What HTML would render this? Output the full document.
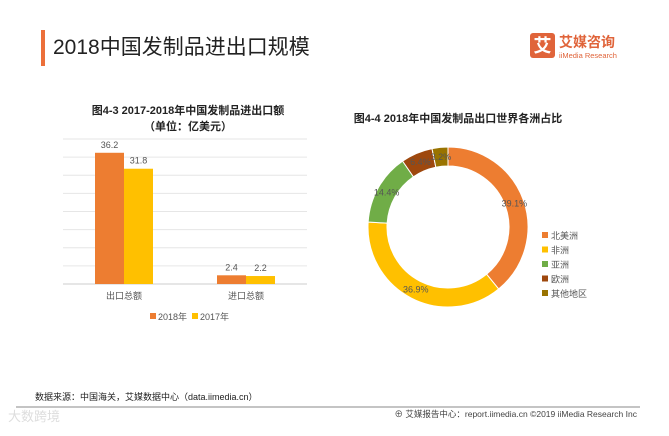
<!DOCTYPE html>
<html><head><meta charset="utf-8">
<style>
body{margin:0;width:669px;height:431px;background:#fff;overflow:hidden;font-family:"Liberation Sans","Noto Sans CJK SC",sans-serif;}
svg text{font-family:"Liberation Sans","Noto Sans CJK SC",sans-serif;}
</style></head>
<body>
<svg width="669" height="431" viewBox="0 0 669 431">
  <rect x="41" y="30" width="4" height="36" fill="#ec6f3a"/>
  <text x="53" y="54" font-size="21" fill="#222">2018中国发制品进出口规模</text>
  <g>
    <rect x="530" y="33" width="25" height="25" rx="3" fill="#e0643a"/>
    <text x="542.5" y="52" font-size="18" fill="#fff" text-anchor="middle" font-weight="bold">艾</text>
    <text x="559" y="47" font-size="14" fill="#e0643a" font-weight="bold">艾媒咨询</text>
    <text x="559" y="58" font-size="7.5" fill="#e0643a">iiMedia Research</text>
  </g>

  <text x="188" y="114" font-size="11" font-weight="bold" fill="#222" text-anchor="middle">图4-3 2017-2018年中国发制品进出口额</text>
  <text x="188" y="130" font-size="11" font-weight="bold" fill="#222" text-anchor="middle">（单位：亿美元）</text>
  <g id="bars"></g>

  <text x="458" y="122" font-size="11" font-weight="bold" fill="#222" text-anchor="middle">图4-4 2018年中国发制品出口世界各洲占比</text>
  <g id="donut"></g>

  <text x="35" y="400" font-size="9" fill="#222">数据来源：中国海关，艾媒数据中心（data.iimedia.cn）</text>
  <line x1="16" y1="407" x2="640" y2="407" stroke="#888" stroke-width="1"/>
  <text x="8" y="421" font-size="13" fill="#ddd">大数跨境</text>
  <text x="637" y="417" font-size="8.5" fill="#444" text-anchor="end">⊕ 艾媒报告中心：report.iimedia.cn  ©2019  iiMedia Research  Inc</text>
</svg>
<script>
const categories=["出口总额","进口总额"];
const series2018=[36.2,2.4];
const series2017=[31.8,2.2];
const seriesNames=["2018年","2017年"];
const regions=["北美洲","非洲","亚洲","欧洲","其他地区"];
const shares=[39.1,36.9,14.4,6.4,3.2];
const shareLabels=["39.1%","36.9%","14.4%","6.4%","3.2%"];

const NS="http://www.w3.org/2000/svg";
function mk(tag,attrs,parent){const e=document.createElementNS(NS,tag);for(const k in attrs)e.setAttribute(k,attrs[k]);parent.appendChild(e);return e;}
// bar chart
const bg=document.getElementById('bars');
const x0=63,x1=307,yBase=284,yMax=40,plotH=145;
const y=v=>yBase-v/yMax*plotH;
for(let t=0;t<=yMax;t+=5){const g=mk('line',{x1:x0,x2:x1,y1:y(t),y2:y(t),stroke:t===0?'#ccc':'#e6e6e6','stroke-width':1},bg);
}
const band=(x1-x0)/categories.length, bw=29;
const colors=["#ed7d31","#ffc000"];
categories.forEach((c,i)=>{
  const cx=x0+band*(i+0.5);
  [series2018,series2017].forEach((s,j)=>{
    const bx=cx-bw+j*bw;
    const r=mk('rect',{x:bx,y:y(s[i]),width:bw,height:yBase-y(s[i]),fill:colors[j]},bg);
    
    
    const t=mk('text',{x:bx+bw/2,y:y(s[i])-5,'font-size':9,fill:'#555','text-anchor':'middle'},bg);
    t.textContent=s[i].toFixed(1);
    
    
  });
  const l=mk('text',{x:cx,y:yBase+15,'font-size':9,fill:'#555','text-anchor':'middle'},bg);
  l.textContent=c;
  
  
});
seriesNames.forEach((n,j)=>{
  const lx=150+j*42;
  const r=mk('rect',{x:lx,y:313,width:6,height:6,fill:colors[j]},bg);
  
  
  const t=mk('text',{x:lx+8,y:320,'font-size':9,fill:'#555'},bg);
  t.textContent=n;
  
  
});
// donut
const dg=document.getElementById('donut');
const cx=448,cy=227,R=80,r0=61;
const dcol=["#ed7d31","#ffc000","#70ad47","#9e480e","#997300"];
const total=shares.reduce((a,b)=>a+b,0);
let a=0;
function pt(rad,ang){return [cx+rad*Math.sin(ang),cy-rad*Math.cos(ang)];}
shares.forEach((v,i)=>{
  const a0=a/total*2*Math.PI;a+=v;const a1=a/total*2*Math.PI;
  const lg=(a1-a0)>Math.PI?1:0;
  const p1=pt(R,a0),p2=pt(R,a1),p3=pt(r0,a1),p4=pt(r0,a0);
  const p=mk('path',{d:`M${p1}A${R},${R} 0 ${lg} 1 ${p2}L${p3}A${r0},${r0} 0 ${lg} 0 ${p4}Z`,fill:dcol[i],stroke:'#fff','stroke-width':1},dg);
  
  
  const m=(a0+a1)/2,lp=pt((R+r0)/2,m);
  const t=mk('text',{x:lp[0],y:lp[1]+3,'font-size':9,fill:'#555','text-anchor':'middle'},dg);
  t.textContent=shareLabels[i];
  
  
});
regions.forEach((n,i)=>{
  const ly=238+i*14.5;
  const r=mk('rect',{x:542,y:ly-6,width:6,height:6,fill:dcol[i]},dg);
  
  
  const t=mk('text',{x:551,y:ly+1,'font-size':9,fill:'#555'},dg);
  t.textContent=n;
  
  
});
</script>
</body></html>
